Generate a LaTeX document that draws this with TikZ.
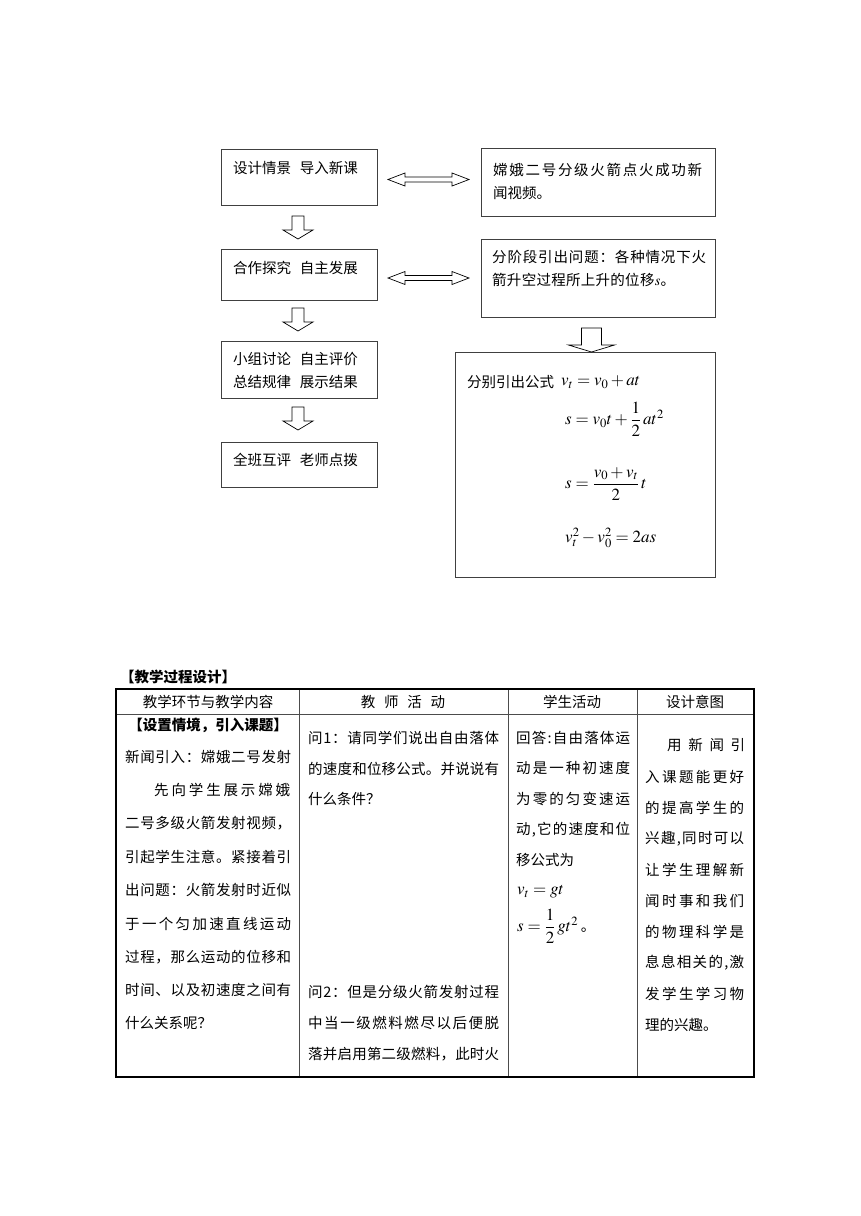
\documentclass[tikz,border=0pt]{standalone}
\usepackage{amsmath}
\usepackage{mathptmx}
\usepackage{fontspec}
\setmainfont{Noto Sans CJK SC}
\makeatletter
\newcommand\sprline[2]{\makebox[#1][s]{\@tfor\@sprch:=#2\do{\@sprch\hfil}\unskip}}
\newcommand\sprlineaux[2]{\sprline{#2}{#1}}
\newcommand\sprx[2]{\expandafter\sprlineaux\expandafter{#2}{#1}}
\makeatother
\tikzset{
  boxx/.style={draw=black!75, line width=1.1pt, inner sep=0pt, anchor=north west},
  ft/.style={inner sep=0pt, anchor=west, font=\fontsize{14.5}{16}\selectfont},
  tt/.style={inner sep=0pt, anchor=west, font=\fontsize{14.5}{16}\selectfont},
  hd/.style={inner sep=0pt, anchor=center, font=\fontsize{14.5}{16}\selectfont},
  blk/.style={draw=black, line width=0.7pt, fill=white, line join=miter},
  mth/.style={inner sep=0pt, anchor=west, font=\fontsize{17}{19}\selectfont},
}
\begin{document}
\begin{tikzpicture}[x=1pt,y=-1pt]
\useasboundingbox[fill=white] (0,0) rectangle (860,1216);
% ---------- flowchart boxes ----------
\node[boxx, minimum width=156, minimum height=56] (b1) at (221,149) {};
\node[boxx, minimum width=234, minimum height=68] (b2) at (481,148) {};
\node[boxx, minimum width=156, minimum height=51] (b3) at (221,249) {};
\node[boxx, minimum width=234, minimum height=78] (b4) at (481,239) {};
\node[boxx, minimum width=156, minimum height=57] (b5) at (221,341) {};
\node[boxx, minimum width=156, minimum height=45] (b6) at (221,442) {};
\node[boxx, minimum width=260, minimum height=225] (b7) at (455,352) {};
% texts
\node[ft] (t1) at (233,168) {设计情景\hspace{0.6em}导入新课};
\node[ft] (t2a) at (493,170) {\sprline{209pt}{嫦娥二号分级火箭点火成功新}};
\node[ft] (t2b) at (493,193) {闻视频。};
\node[ft] (t3) at (233,268) {合作探究\hspace{0.6em}自主发展};
\node[ft] (t4a) at (492,257) {\sprline{214pt}{分阶段引出问题：各种情况下火}};
\node[ft] (t4b) at (492,280) {\sprline{183pt}{箭升空过程所上升的位移{$s$}。}};
\node[ft] (t5a) at (233,359) {小组讨论\hspace{0.6em}自主评价};
\node[ft] (t5b) at (233,382) {总结规律\hspace{0.6em}展示结果};
\node[ft] (t6) at (233,460) {全班互评\hspace{0.6em}老师点拨};
\node[ft] (t7) at (467,382) {分别引出公式};
\node[mth] (f1) at (561,382) {$v_t = v_0 + at$};
\node[mth] (f2) at (565,419) {$s = v_0t + \dfrac{1}{2}\,at^2$};
\node[mth] (f3) at (565,484) {$s = \dfrac{v_0 + v_t}{2}\,t$};
\node[mth] (f4) at (565,538) {$v_t^2 - v_0^2 = 2as$};
% ---------- block arrows ----------
\foreach \cx/\tp/\bs/\tip/\sw/\hw in {298/216/230/239/6/15, 298/308/322/331/6/15, 298/407/421/430/6/15, 591.5/328/345/352/10/23}{
  \draw[blk] ({\cx-\sw},\tp) -- ({\cx+\sw},\tp) -- ({\cx+\sw},\bs) -- ({\cx+\hw},\bs) -- (\cx,\tip)
    -- ({\cx-\hw},\bs) -- ({\cx-\sw},\bs) -- cycle;
}
\foreach \cy in {179.5, 278}{
  \draw[blk] (388,\cy) -- (405,{\cy-6.5}) -- (405,{\cy-2.5}) -- (452,{\cy-2.5}) -- (452,{\cy-6.5})
    -- (469,\cy) -- (452,{\cy+6.5}) -- (452,{\cy+2.5}) -- (405,{\cy+2.5}) -- (405,{\cy+6.5}) -- cycle;
}
% ---------- table ----------
\node[inner sep=0pt, anchor=west, font=\fontsize{14.5}{16}\selectfont\bfseries] (ttl) at (120,677) {【教学过程设计】};
\draw[black!70, line width=0.8pt] (116,714) -- (754,714);
\foreach \xx in {299,508,637}{
  \draw[black!70, line width=0.8pt] (\xx,689) -- (\xx,1077);
}
\draw[black, line width=1.8pt] (116,689) rectangle (754,1077);
% header
\node[hd] (h1) at (208,702) {教学环节与教学内容};
\node[hd] (h2) at (403,702) {教\hspace{0.6em}师\hspace{0.6em}活\hspace{0.6em}动};
\node[hd] (h3) at (572,702) {学生活动};
\node[hd] (h4) at (695,702) {设计意图};
% column 1
\node[hd, font=\fontsize{14.5}{16}\selectfont\bfseries] (c1h) at (208,725) {【设置情境，引入课题】};
\foreach \yy/\xx/\ww/\tx [count=\i] in {
  757/125/166/{新闻引入：嫦娥二号发射},
  790/154/136/{先向学生展示嫦娥},
  823/125/166/{二号多级火箭发射视频，},
  857/125/166/{引起学生注意。紧接着引},
  890/125/166/{出问题：火箭发射时近似},
  924/125/166/{于一个匀加速直线运动},
  957/125/166/{过程，那么运动的位移和},
  990/125/166/{时间、以及初速度之间有}}{
  \node[tt] (c1l\i) at (\xx,\yy) {\sprx{\ww pt}{\tx}};
}
\node[tt] (c1last) at (125,1023) {什么关系呢？};
% column 2
\foreach \yy/\tx [count=\i] in {
  738/{问1：请同学们说出自由落体},
  769/{的速度和位移公式。并说说有},
  992/{问2：但是分级火箭发射过程},
  1023/{中当一级燃料燃尽以后便脱},
  1054/{落并启用第二级燃料，此时火}}{
  \node[tt] (c2l\i) at (308,\yy) {\sprx{191pt}{\tx}};
}
\node[tt] (c2s) at (308,799) {什么条件？};
% column 3
\foreach \yy/\tx [count=\i] in {
  738/{回答:自由落体运},
  768/{动是一种初速度},
  799/{为零的匀变速运},
  830/{动,它的速度和位}}{
  \node[tt] (c3l\i) at (516,\yy) {\sprx{114pt}{\tx}};
}
\node[tt] (c3s) at (516,860) {移公式为};
\node[mth] (c3f1) at (517,892) {$v_t = gt$};
\node[mth] (c3f2) at (517,926) {$s = \dfrac{1}{2}\,gt^2$\,\fontsize{14.5}{16}\selectfont 。};
% column 4
\node[tt] (c4h) at (667,745) {\sprline{78pt}{用新闻引}};
\foreach \yy/\tx [count=\i] in {
  777/{入课题能更好},
  808/{的提高学生的},
  839/{兴趣,同时可以},
  870/{让学生理解新},
  901/{闻时事和我们},
  932/{的物理科学是},
  963/{息息相关的,激},
  994/{发学生学习物}}{
  \node[tt] (c4l\i) at (645,\yy) {\sprx{99pt}{\tx}};
}
\node[tt] (c4s) at (645,1025) {理的兴趣。};
\end{tikzpicture}
\end{document}
